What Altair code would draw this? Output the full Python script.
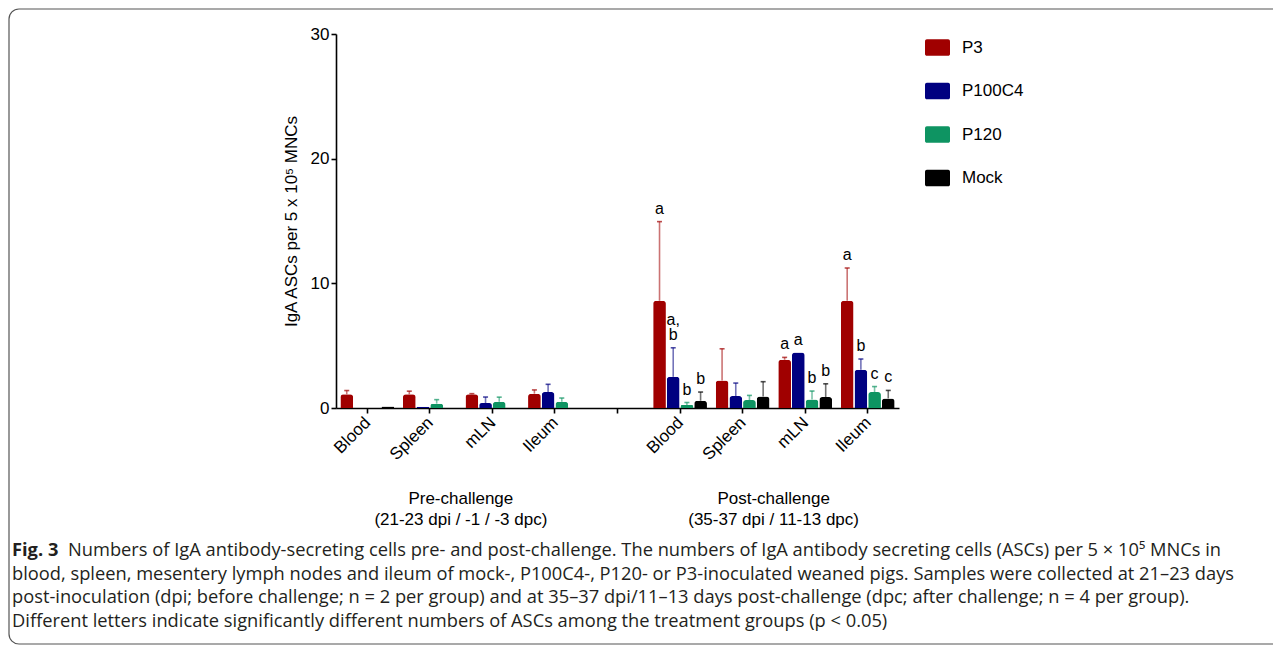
import altair as alt
import pandas as pd

organs = ["Blood", "Spleen", "mLN", "Ileum"]
groups = ["P3", "P100C4", "P120", "Mock"]
colors = ["#A00000", "#000080", "#0E9462", "#000000"]
y_ticks = [0, 10, 20, 30]

# Pre-challenge means and upper error (per organ)
pre_mean = {
    "P3": [1.1, 1.1, 1.1, 1.15],
    "P100C4": [0.0, 0.1, 0.4, 1.28],
    "P120": [0.0, 0.35, 0.5, 0.5],
    "Mock": [0.12, 0.0, 0.0, 0.0],
}
pre_err = {
    "P3": [0.3, 0.25, 0.05, 0.3],
    "P100C4": [0.0, 0.0, 0.48, 0.62],
    "P120": [0.0, 0.32, 0.37, 0.3],
    "Mock": [0.0, 0.0, 0.0, 0.0],
}
# Post-challenge means and upper error
post_mean = {
    "P3": [8.6, 2.2, 3.87, 8.6],
    "P100C4": [2.5, 0.96, 4.45, 3.07],
    "P120": [0.24, 0.64, 0.69, 1.28],
    "Mock": [0.58, 0.93, 0.88, 0.77],
}
post_err = {
    "P3": [6.35, 2.55, 0.19, 2.63],
    "P100C4": [2.33, 1.04, 0.0, 0.86],
    "P120": [0.2, 0.37, 0.67, 0.44],
    "Mock": [0.7, 1.18, 1.06, 0.64],
}
post_letters = {
    "P3": ["a", "", "a", "a"],
    "P100C4": ["a,\nb", "", "a", "b"],
    "P120": ["b", "", "b", "c"],
    "Mock": ["b", "", "b", "c"],
}

x_domain = [f"pre-{o}" for o in organs] + ["gap"] + [f"post-{o}" for o in organs]

phase_titles = ["Pre-challenge\n(21-23 dpi / -1 / -3 dpc)", "Post-challenge\n(35-37 dpi / 11-13 dpc)"]
phase_anchor = ["pre-Spleen", "post-Spleen"]

caption_bold = "Fig. 3"
caption_lines = [
    "Numbers of IgA antibody-secreting cells pre- and post-challenge. The numbers of IgA antibody secreting cells (ASCs) per 5 × 10⁵ MNCs in",
    "blood, spleen, mesentery lymph nodes and ileum of mock-, P100C4-, P120- or P3-inoculated weaned pigs. Samples were collected at 21–23 days",
    "post-inoculation (dpi; before challenge; n = 2 per group) and at 35–37 dpi/11–13 days post-challenge (dpc; after challenge; n = 4 per group).",
    "Different letters indicate significantly different numbers of ASCs among the treatment groups (p < 0.05)",
]

rows = []
for phase, means, errs in [("pre", pre_mean, pre_err), ("post", post_mean, post_err)]:
    for g in groups:
        for i, o in enumerate(organs):
            rows.append(dict(
                slot=f"{phase}-{o}", group=g, mean=means[g][i], err=errs[g][i],
                letter=(post_letters[g][i] if phase == "post" else ""),
            ))
df = pd.DataFrame(rows)
df["hi"] = df["mean"] + df["err"]

FONT = "Liberation Sans, Arial, sans-serif"
CAP_FONT = "Open Sans, sans-serif"

x_enc = alt.X(
    "slot:N",
    scale=alt.Scale(domain=x_domain, paddingInner=0.14, paddingOuter=0.07),
    axis=alt.Axis(
        title=None,
        labelExpr="indexof(datum.value, '-') >= 0 ? split(datum.value, '-')[1] : ''",
        labelAngle=-45, labelAlign="right", labelBaseline="top",
        labelFontSize=17, labelPadding=1, labelOffset=-5,
    ),
)
xo_enc = alt.XOffset("group:N", scale=alt.Scale(domain=groups, paddingInner=0.07))
y_enc = alt.Y(
    "mean:Q",
    scale=alt.Scale(domain=[0, 30], nice=False),
    axis=alt.Axis(values=y_ticks, title="IgA ASCs per 5 x 10⁵ MNCs",
                  titlePadding=10, labelFontSize=17, titleFontSize=17),
)
color_scale = alt.Scale(domain=groups, range=colors)

legend_path = ("M-0.85,-0.66 H0.85 A0.15,0.15 0 0 1 1,-0.51 V0.51 A0.15,0.15 0 0 1 0.85,0.66 "
               "H-0.85 A0.15,0.15 0 0 1 -1,0.51 V-0.51 A0.15,0.15 0 0 1 -0.85,-0.66 Z")

bars = alt.Chart(df).mark_bar(cornerRadiusTopLeft=3, cornerRadiusTopRight=3).encode(
    x=x_enc, xOffset=xo_enc, y=y_enc,
    color=alt.Color("group:N", scale=color_scale, legend=alt.Legend(
        title=None, orient="none", legendX=589, legendY=1,
        symbolType=legend_path, symbolSize=625, symbolStrokeWidth=0, symbolOpacity=1,
        labelFontSize=17, labelFont=FONT, labelColor="black", rowPadding=22.5,
        labelOffset=12, padding=0,
    )),
)

has_err = alt.datum.err > 0
err_lines = alt.Chart(df).transform_filter(has_err).mark_rule(strokeWidth=1.6, opacity=0.55).encode(
    x=x_enc, xOffset=xo_enc, y="mean:Q", y2="hi:Q",
    color=alt.Color("group:N", scale=color_scale, legend=None),
)
err_caps = alt.Chart(df).transform_filter(has_err).mark_tick(size=5, thickness=1.6).encode(
    x=x_enc, xOffset=xo_enc, y="hi:Q",
    color=alt.Color("group:N", scale=color_scale, legend=None),
)
letters_single = alt.Chart(df).transform_filter(
    (alt.datum.letter != "") & (alt.expr.indexof(alt.datum.letter, "\n") < 0)
).mark_text(
    baseline="bottom", dy=-5, fontSize=16, font=FONT, color="black",
).encode(x=x_enc, xOffset=xo_enc, y="hi:Q", text="letter:N")
letters_multi = alt.Chart(df).transform_filter(
    alt.expr.indexof(alt.datum.letter, "\n") >= 0
).mark_text(
    baseline="bottom", dy=-20, fontSize=16, font=FONT, color="black", lineBreak="\n", lineHeight=15,
).encode(x=x_enc, xOffset=xo_enc, y="hi:Q", text="letter:N")

phase_df = pd.DataFrame({"slot": phase_anchor, "title": phase_titles})
phase_text = alt.Chart(phase_df).mark_text(
    fontSize=17, font=FONT, color="black", lineBreak="\n", lineHeight=21,
    baseline="middle", dx=31,
).encode(x=alt.X("slot:N"), y=alt.value(465), text="title:N")

caption_y = [517, 541, 564, 588]
CAP_SIZE = 18.3
caption_layers = []
for i, line in enumerate(caption_lines):
    xpos = -268 if i == 0 else -324
    caption_layers.append(
        alt.Chart(pd.DataFrame({"t": [line]})).mark_text(
            align="left", baseline="middle", fontSize=CAP_SIZE, font=CAP_FONT, color="#231F20",
        ).encode(x=alt.value(xpos), y=alt.value(caption_y[i]), text="t:N")
    )
caption_layers.append(
    alt.Chart(pd.DataFrame({"t": [caption_bold]})).mark_text(
        align="left", baseline="middle", fontSize=CAP_SIZE, font=CAP_FONT, fontWeight="bold", color="#231F20",
    ).encode(x=alt.value(-324), y=alt.value(caption_y[0]), text="t:N")
)

border = alt.Chart(pd.DataFrame({"k": [0]})).mark_rect(
    fillOpacity=0, stroke="#555555", strokeWidth=1.2, cornerRadius=10,
).encode(x=alt.value(-327), x2=alt.value(960), y=alt.value(-25), y2=alt.value(610))

chart = alt.layer(
    border, bars, err_lines, err_caps, letters_single, letters_multi, phase_text, *caption_layers
).properties(
    width=563, height=374,
    padding={"left": 328, "top": 26, "right": 374, "bottom": 237},
    autosize=alt.AutoSizeParams(type="none"),
).configure_view(stroke=None).configure_axis(
    domainColor="black", domainWidth=1.6, tickColor="black", tickWidth=1.6, tickSize=5,
    labelColor="black", titleColor="black", labelFont=FONT, titleFont=FONT,
    titleFontWeight="normal", grid=False,
)

chart.save("out.html", embed_options={"renderer": "svg", "actions": False})
